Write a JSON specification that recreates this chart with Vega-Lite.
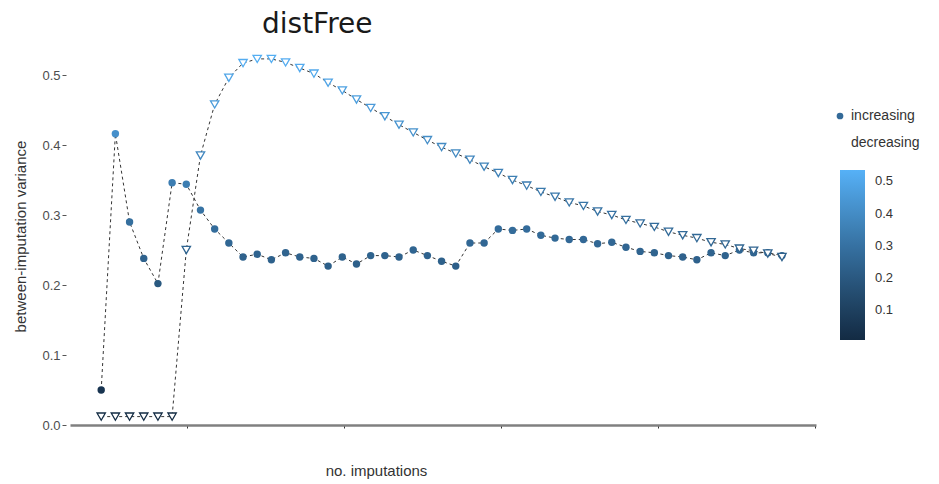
{
 "$schema": "https://vega.github.io/schema/vega-lite/v6.json",
 "width": 746,
 "height": 378,
 "autosize": {"type": "none"},
 "padding": {"left": 70, "top": 47, "right": 123, "bottom": 59},
 "background": "white",
 "title": {"text": "distFree", "anchor": "start", "frame": "group", "dx": 192, "dy": 28, "offset": 14, "baseline": "alphabetic", "fontSize": 28, "font": "DejaVu Sans", "fontWeight": "normal", "color": "#1a1a1a"},
 "data": {"values": [
  {"m":0,"type":"increasing","v":0.050},{"m":1,"type":"increasing","v":0.416},{"m":2,"type":"increasing","v":0.290},{"m":3,"type":"increasing","v":0.238},{"m":4,"type":"increasing","v":0.202},{"m":5,"type":"increasing","v":0.346},{"m":6,"type":"increasing","v":0.344},{"m":7,"type":"increasing","v":0.307},{"m":8,"type":"increasing","v":0.280},{"m":9,"type":"increasing","v":0.260},
  {"m":10,"type":"increasing","v":0.240},{"m":11,"type":"increasing","v":0.244},{"m":12,"type":"increasing","v":0.236},{"m":13,"type":"increasing","v":0.246},{"m":14,"type":"increasing","v":0.240},{"m":15,"type":"increasing","v":0.238},{"m":16,"type":"increasing","v":0.227},{"m":17,"type":"increasing","v":0.240},{"m":18,"type":"increasing","v":0.230},{"m":19,"type":"increasing","v":0.242},
  {"m":20,"type":"increasing","v":0.242},{"m":21,"type":"increasing","v":0.240},{"m":22,"type":"increasing","v":0.250},{"m":23,"type":"increasing","v":0.242},{"m":24,"type":"increasing","v":0.234},{"m":25,"type":"increasing","v":0.227},{"m":26,"type":"increasing","v":0.260},{"m":27,"type":"increasing","v":0.260},{"m":28,"type":"increasing","v":0.280},{"m":29,"type":"increasing","v":0.278},
  {"m":30,"type":"increasing","v":0.280},{"m":31,"type":"increasing","v":0.271},{"m":32,"type":"increasing","v":0.267},{"m":33,"type":"increasing","v":0.265},{"m":34,"type":"increasing","v":0.265},{"m":35,"type":"increasing","v":0.259},{"m":36,"type":"increasing","v":0.261},{"m":37,"type":"increasing","v":0.254},{"m":38,"type":"increasing","v":0.248},{"m":39,"type":"increasing","v":0.246},
  {"m":40,"type":"increasing","v":0.242},{"m":41,"type":"increasing","v":0.240},{"m":42,"type":"increasing","v":0.236},{"m":43,"type":"increasing","v":0.246},{"m":44,"type":"increasing","v":0.242},{"m":45,"type":"increasing","v":0.250},{"m":46,"type":"increasing","v":0.246},{"m":47,"type":"increasing","v":0.246},{"m":48,"type":"increasing","v":0.242},
  {"m":0,"type":"decreasing","v":0.012},{"m":1,"type":"decreasing","v":0.012},{"m":2,"type":"decreasing","v":0.012},{"m":3,"type":"decreasing","v":0.012},{"m":4,"type":"decreasing","v":0.012},{"m":5,"type":"decreasing","v":0.012},{"m":6,"type":"decreasing","v":0.250},{"m":7,"type":"decreasing","v":0.385},{"m":8,"type":"decreasing","v":0.458},{"m":9,"type":"decreasing","v":0.496},
  {"m":10,"type":"decreasing","v":0.517},{"m":11,"type":"decreasing","v":0.523},{"m":12,"type":"decreasing","v":0.523},{"m":13,"type":"decreasing","v":0.518},{"m":14,"type":"decreasing","v":0.510},{"m":15,"type":"decreasing","v":0.502},{"m":16,"type":"decreasing","v":0.489},{"m":17,"type":"decreasing","v":0.478},{"m":18,"type":"decreasing","v":0.465},{"m":19,"type":"decreasing","v":0.453},
  {"m":20,"type":"decreasing","v":0.441},{"m":21,"type":"decreasing","v":0.429},{"m":22,"type":"decreasing","v":0.418},{"m":23,"type":"decreasing","v":0.407},{"m":24,"type":"decreasing","v":0.397},{"m":25,"type":"decreasing","v":0.388},{"m":26,"type":"decreasing","v":0.379},{"m":27,"type":"decreasing","v":0.369},{"m":28,"type":"decreasing","v":0.360},{"m":29,"type":"decreasing","v":0.350},
  {"m":30,"type":"decreasing","v":0.342},{"m":31,"type":"decreasing","v":0.333},{"m":32,"type":"decreasing","v":0.326},{"m":33,"type":"decreasing","v":0.318},{"m":34,"type":"decreasing","v":0.313},{"m":35,"type":"decreasing","v":0.305},{"m":36,"type":"decreasing","v":0.300},{"m":37,"type":"decreasing","v":0.293},{"m":38,"type":"decreasing","v":0.288},{"m":39,"type":"decreasing","v":0.283},
  {"m":40,"type":"decreasing","v":0.276},{"m":41,"type":"decreasing","v":0.271},{"m":42,"type":"decreasing","v":0.267},{"m":43,"type":"decreasing","v":0.261},{"m":44,"type":"decreasing","v":0.258},{"m":45,"type":"decreasing","v":0.252},{"m":46,"type":"decreasing","v":0.249},{"m":47,"type":"decreasing","v":0.245},{"m":48,"type":"decreasing","v":0.240}
 ]},
 "encoding": {
  "x": {"field": "m", "type": "quantitative", "scale": {"domain": [-2.2, 50.4], "nice": false, "zero": false},
   "axis": {"title": "no. imputations", "values": [6.06, 17.13, 28.2, 39.27, 50.34], "labels": false, "grid": false,
    "domainColor": "#808080", "domainWidth": 2.5, "tickColor": "#333333", "tickSize": 3, "tickWidth": 1,
    "titleFont": "Liberation Sans", "titleFontSize": 15, "titleFontWeight": "normal", "titleColor": "#333333",
    "titleX": 306, "titleY": 50, "titleBaseline": "alphabetic"}},
  "y": {"field": "v", "type": "quantitative", "scale": {"domain": [0, 0.54], "nice": false},
   "axis": {"title": "between-imputation variance", "values": [0, 0.1, 0.2, 0.3, 0.4, 0.5], "format": ".1f", "domain": false, "grid": false,
    "tickColor": "#555555", "tickSize": 4, "offset": 4, "labelFont": "Liberation Sans", "labelFontSize": 13, "labelColor": "#4d4d4d", "labelPadding": 2,
    "titleFont": "Liberation Sans", "titleFontSize": 15, "titleFontWeight": "normal", "titleColor": "#333333", "titlePadding": 13}}
 },
 "layer": [
  {"mark": {"type": "line", "stroke": "black", "strokeWidth": 0.8, "strokeDash": [3, 3]},
   "encoding": {"detail": {"field": "type"}}},
  {"transform": [{"filter": "datum.type === 'increasing'"}],
   "mark": {"type": "point", "filled": true, "opacity": 1, "size": 55},
   "encoding": {
    "shape": {"field": "type", "type": "nominal", "scale": {"domain": ["increasing", "decreasing"], "range": ["circle", "triangle-down"]},
     "legend": {"title": null, "orient": "none", "legendX": 763, "legendY": 62, "labelFont": "Liberation Sans", "labelFontSize": 14, "labelColor": "#333333", "symbolSize": 45, "rowPadding": 13, "symbolStrokeWidth": 1.2}},
    "fill": {"field": "v", "type": "quantitative",
     "scale": {"type": "linear", "domain": [0.008, 0.535], "range": ["#132B43", "#56B1F7"], "interpolate": "lab"},
     "legend": {"type": "gradient", "title": null, "orient": "none", "direction": "vertical", "legendX": 770, "legendY": 123, "gradientLength": 170, "gradientThickness": 25, "tickCount": 5, "format": ".1f", "labelFont": "Liberation Sans", "labelFontSize": 13, "labelColor": "#333333", "labelOffset": 10, "gradientStrokeWidth": 0}}
   }},
  {"transform": [{"filter": "datum.type === 'decreasing'"}],
   "mark": {"type": "point", "filled": false, "fill": "white", "strokeWidth": 1.3, "opacity": 1, "size": 70},
   "encoding": {
    "shape": {"field": "type", "type": "nominal",
     "legend": {"title": null, "orient": "none", "legendX": 763, "legendY": 62, "labelFont": "Liberation Sans", "labelFontSize": 14, "labelColor": "#333333", "symbolSize": 45, "rowPadding": 13, "symbolStrokeWidth": 1.2}},
    "stroke": {"field": "v", "type": "quantitative", "scale": {"type": "linear", "domain": [0.00801, 0.53501], "range": ["#132B43", "#56B1F7"], "interpolate": "lab"}, "legend": null}
   }}
 ],
 "config": {
  "view": {"stroke": null},
  "legend": {
   "symbolBaseFillColor": {"expr": "datum.value === 'increasing' ? '#336a98' : 'white'"},
   "symbolBaseStrokeColor": {"expr": "datum.value === 'increasing' ? '#336a98' : '#2b5577'"}
  }
 }
}
